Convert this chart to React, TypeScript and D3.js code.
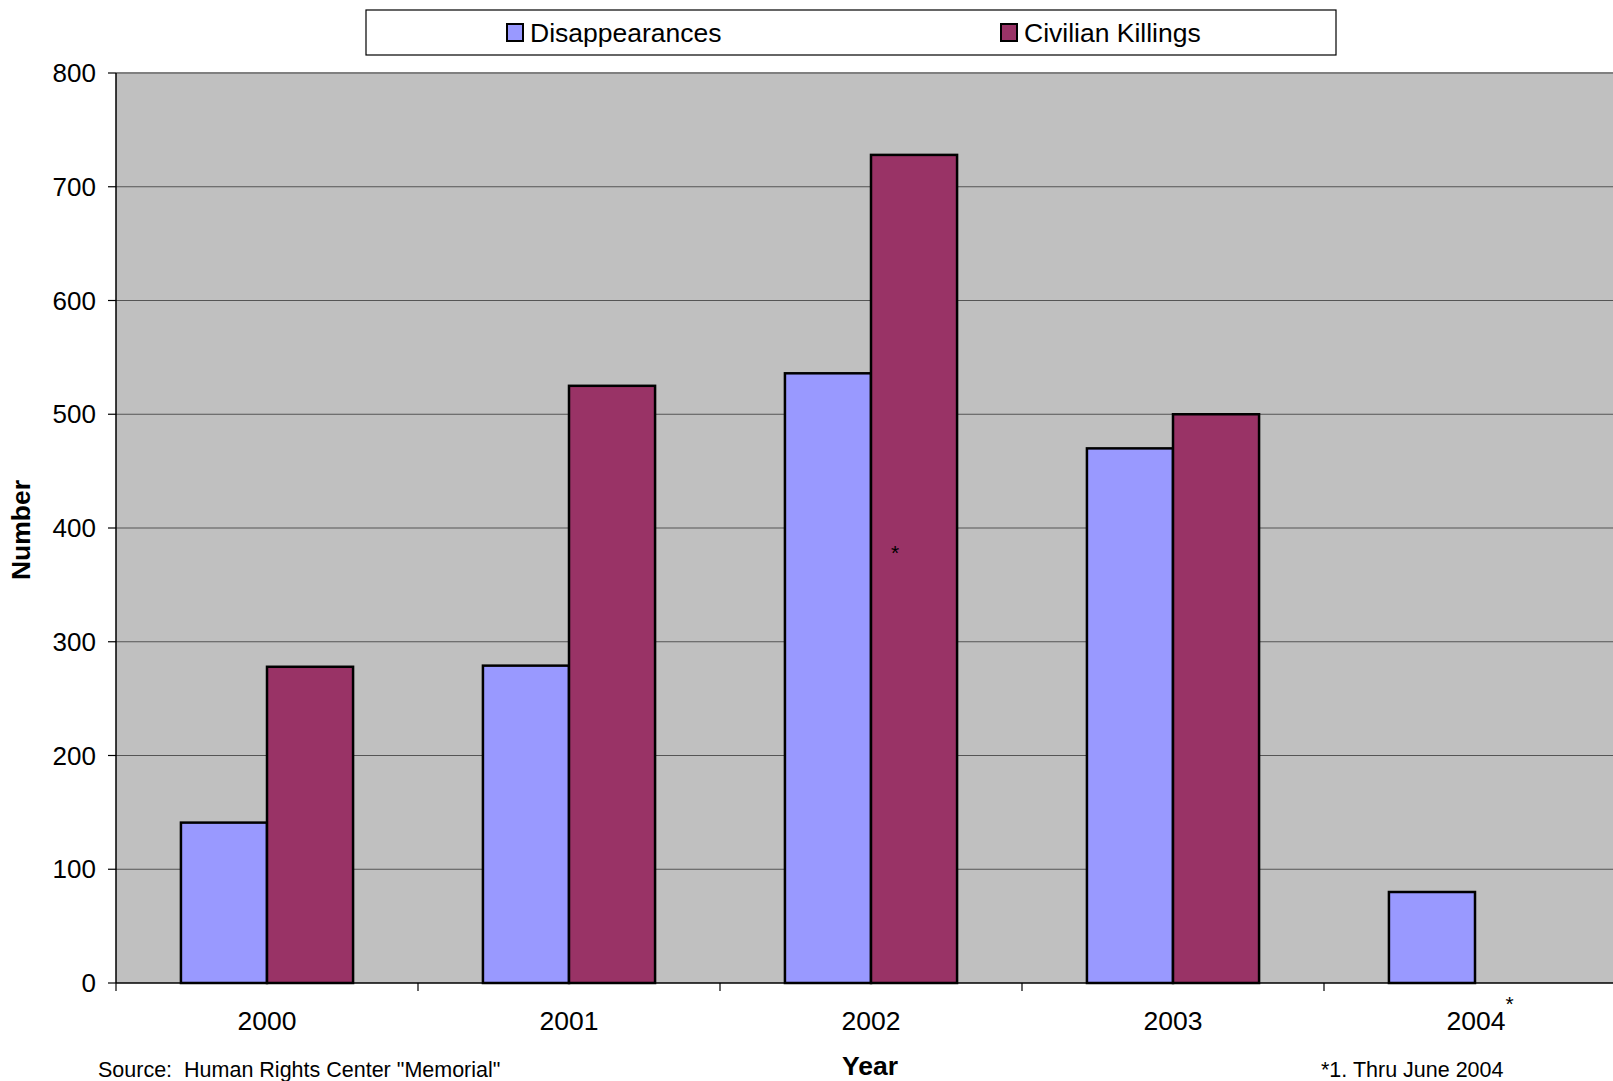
import React from "react";
import * as d3 from "d3";

const years = ["2000", "2001", "2002", "2003", "2004"];
const seriesNames = ["Disappearances", "Civilian Killings"];
const disappearances: (number | null)[] = [141, 279, 536, 470, 80];
const civilianKillings: (number | null)[] = [278, 525, 728, 500, null];
const seriesColors = ["#9999FF", "#993366"];
const yTicks = [0, 100, 200, 300, 400, 500, 600, 700, 800];

const W = 1613;
const H = 1081;
const left = 116;
const top = 73;
const bottom = 983;
const right = 116 + 5 * 302;
const font = "Arial, 'Liberation Sans', sans-serif";

export default function App() {
  const x = d3.scaleBand<string>().domain(years).range([left, right]).paddingInner(0.43).paddingOuter(0.215);
  const xs = d3.scaleBand<string>().domain(seriesNames).range([0, x.bandwidth()]);
  const y = d3.scaleLinear().domain([0, 800]).range([bottom, top]);
  const step = x.step();
  const seriesData = [disappearances, civilianKillings];

  return (
    <svg width={W} height={H} style={{ position: "absolute", left: 0, top: 0, display: "block" }} fontFamily={font}>
      <rect x={0} y={0} width={W} height={H} fill="#fff" />
      <rect x={left} y={top} width={right - left} height={bottom - top} fill="#C0C0C0" />
      {yTicks.filter((t) => t > 0).map((t) => (
        <line key={t} x1={left} x2={right} y1={y(t)} y2={y(t)} stroke={t === 800 ? "#808080" : "#555"} strokeWidth={t === 800 ? 2 : 1.2} />
      ))}
      {seriesData.map((vals, si) =>
        vals.map((v, i) =>
          v == null ? null : (
            <rect
              key={`${si}-${i}`}
              x={(x(years[i]) as number) + (xs(seriesNames[si]) as number)}
              y={y(v)}
              width={xs.bandwidth()}
              height={y(0) - y(v)}
              fill={seriesColors[si]}
              stroke="#000"
              strokeWidth={2.5}
            />
          )
        )
      )}
      <text x={(x("2002") as number) + (xs("Civilian Killings") as number) + 20} y={y(372)} fontSize={21} fill="#000">*</text>
      <line x1={left} x2={left} y1={top} y2={bottom} stroke="#000" strokeWidth={1.5} />
      <line x1={left} x2={right} y1={bottom} y2={bottom} stroke="#000" strokeWidth={1.5} />
      {yTicks.map((t) => (
        <g key={t}>
          <line x1={left - 8} x2={left} y1={y(t)} y2={y(t)} stroke="#000" strokeWidth={1.2} />
          <text x={96} y={y(t)} dy="0.35em" textAnchor="end" fontSize={26} fill="#000">{t}</text>
        </g>
      ))}
      {d3.range(years.length + 1).map((i) => (
        <line key={i} x1={left + i * step} x2={left + i * step} y1={bottom} y2={bottom + 8} stroke="#000" strokeWidth={1.2} />
      ))}
      {years.map((yr) => (
        <text key={yr} x={(x(yr) as number) + x.bandwidth() / 2 + (yr === "2004" ? 5 : 0)} y={1030} textAnchor="middle" fontSize={26.5} fill="#000">
          {yr}
          {yr === "2004" ? <tspan dy={-19} fontSize={21}>*</tspan> : null}
        </text>
      ))}
      <text transform={`translate(30,${(top + bottom) / 2 + 2}) rotate(-90)`} textAnchor="middle" fontSize={26.5} fontWeight="bold" fill="#000">Number</text>
      <text x={870} y={1075} textAnchor="middle" fontSize={26.5} fontWeight="bold" fill="#000">Year</text>
      <text x={98} y={1077} fontSize={21.5} fill="#000" style={{ whiteSpace: "pre" }}>{'Source:  Human Rights Center "Memorial"'}</text>
      <text x={1321} y={1077} fontSize={21.5} fill="#000">*1. Thru June 2004</text>
      <rect x={366} y={10} width={970} height={45} fill="#fff" stroke="#000" strokeWidth={1.2} />
      {seriesNames.map((name, i) => {
        const lx = [507, 1001][i];
        return (
          <g key={name}>
            <rect x={lx} y={24} width={16} height={17} fill={seriesColors[i]} stroke="#000" strokeWidth={2} />
            <text x={lx + 23} y={33} dy="0.35em" fontSize={26.5} fill="#000">{name}</text>
          </g>
        );
      })}
    </svg>
  );
}
